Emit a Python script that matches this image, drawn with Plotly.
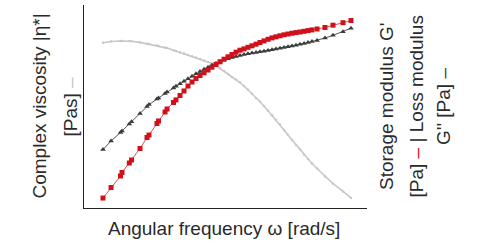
import plotly.graph_objects as go

# Angular frequency ω [rad/s]
omega = [0.01, 0.0145, 0.0224, 0.024, 0.0336, 0.0372, 0.055, 0.0759, 0.0832, 0.120,
         0.129, 0.174, 0.191, 0.257, 0.288,
         0.347, 0.417, 0.501, 0.603, 0.724, 0.871, 1.05, 1.26, 1.51, 1.82,
         2.19, 2.63, 3.16, 3.80, 4.57, 5.50, 6.61, 7.94, 9.55, 11.5,
         13.8, 16.6, 20.0, 24.0, 28.8, 34.7, 41.7, 50.1, 60.3, 72.4,
         87.1, 105, 126, 151,
         191, 275, 398, 631, 912]

# Storage modulus G' [Pa]
g_storage = [1.58, 2.57, 4.37, 5.13, 7.94, 9.12, 15.5, 25.7, 28.8, 49.0,
             55.0, 83.2, 95.5, 129, 145,
             178, 219, 275, 331, 389, 447, 506, 575, 655, 741,
             839, 946, 1057, 1175, 1306, 1432, 1521, 1637, 1754, 1888,
             2042, 2198, 2366, 2523, 2655, 2780, 2911, 3020, 3133, 3221,
             3311, 3420, 3532, 3648,
             3802, 4074, 4529, 5082, 5623]

# Loss modulus G'' [Pa]
g_loss = [14.8, 21.9, 32.4, 34.7, 47.9, 53.0, 77.6, 107, 117, 151,
          158, 195, 209, 251, 272,
          305, 342, 384, 431, 483, 537, 594, 655, 718, 783,
          847, 908, 964, 1019, 1072, 1122, 1169, 1213, 1253, 1294,
          1330, 1368, 1413, 1466, 1514, 1563, 1614, 1675, 1738, 1803,
          1879, 1959, 2042, 2138,
          2239, 2512, 2844, 3357, 3945]

# Complex viscosity |η*| [Pas]
viscosity = [1600, 1660, 1685, 1685, 1685, 1675, 1614, 1551, 1537, 1468,
             1450, 1380, 1355, 1271, 1240,
             1191, 1145, 1100, 1057, 1012, 970, 929, 887, 845, 789,
             729, 671, 612, 558, 517, 471, 423, 377, 333, 293,
             261, 229, 198, 172, 149, 130, 110, 94.0, 80.7, 69.2,
             60.3, 51.7, 45.0, 39.2,
             33.6, 26.3, 21.2, 16.6, 13.6]

RED = "#d0101a"
DARK = "#3c3c3c"
LIGHT = "#c8c8c8"
TXT = "#2a2a2a"
FONT = "Liberation Sans, Arial, sans-serif"

fig = go.Figure()
fig.add_trace(go.Scatter(
    x=omega, y=viscosity, mode="lines+markers", yaxis="y",
    line=dict(color=LIGHT, width=1.6),
    marker=dict(color=LIGHT, size=2.5, symbol="circle"),
))
fig.add_trace(go.Scatter(
    x=omega, y=g_loss, mode="lines+markers", yaxis="y2",
    line=dict(color="#555555", width=1),
    marker=dict(color=DARK, size=5, symbol="triangle-up"),
))
fig.add_trace(go.Scatter(
    x=omega, y=g_storage, mode="lines+markers", yaxis="y2",
    line=dict(color="#e05050", width=1),
    marker=dict(color=RED, size=5, symbol="square"),
))

ann_font = dict(family=FONT, size=19, color=TXT)
annotations = [
    dict(text="Complex viscosity |η*|", x=0, y=0.5, xshift=-45),
    dict(text="[Pas] <span style='color:%s'>–</span>" % LIGHT, x=0, y=0.5, xshift=-14),
    dict(text="Storage modulus G'", x=1, y=0.5, xshift=19.5),
    dict(text="[Pa] <span style='color:%s'>–</span> | Loss modulus" % RED, x=1, y=0.5, xshift=49),
    dict(text="G'' [Pa] <span style='color:%s'>–</span>" % DARK, x=1, y=0.5, xshift=76.5),
]
for a in annotations:
    a.update(xref="paper", yref="paper", showarrow=False, textangle=-90,
             xanchor="center", yanchor="middle", font=ann_font)
annotations.append(dict(text="Angular frequency ω [rad/s]", xref="paper", yref="paper",
                        x=0.5, y=0, xshift=-2, yshift=-20, showarrow=False,
                        xanchor="center", yanchor="middle", font=ann_font))

fig.update_layout(
    width=477, height=245,
    margin=dict(l=84, r=110, t=5, b=37),
    paper_bgcolor="white", plot_bgcolor="white",
    showlegend=False,
    annotations=annotations,
    xaxis=dict(type="log", range=[-2.38, 3.28], showgrid=False, zeroline=False,
               showticklabels=False, ticks="", showline=True, linecolor="#222222",
               linewidth=1),
    yaxis=dict(type="log", range=[1, 3.7067], showgrid=False, zeroline=False,
               showticklabels=False, ticks="", showline=True, linecolor="#222222",
               linewidth=1),
    yaxis2=dict(type="log", range=[0, 4.06], overlaying="y", side="right",
                showgrid=False, zeroline=False, showticklabels=False, ticks="",
                showline=False),
)

fig.write_html("out.html", config={"displayModeBar": False},
               post_script="document.body.style.margin='0';document.body.style.overflow='hidden';")
